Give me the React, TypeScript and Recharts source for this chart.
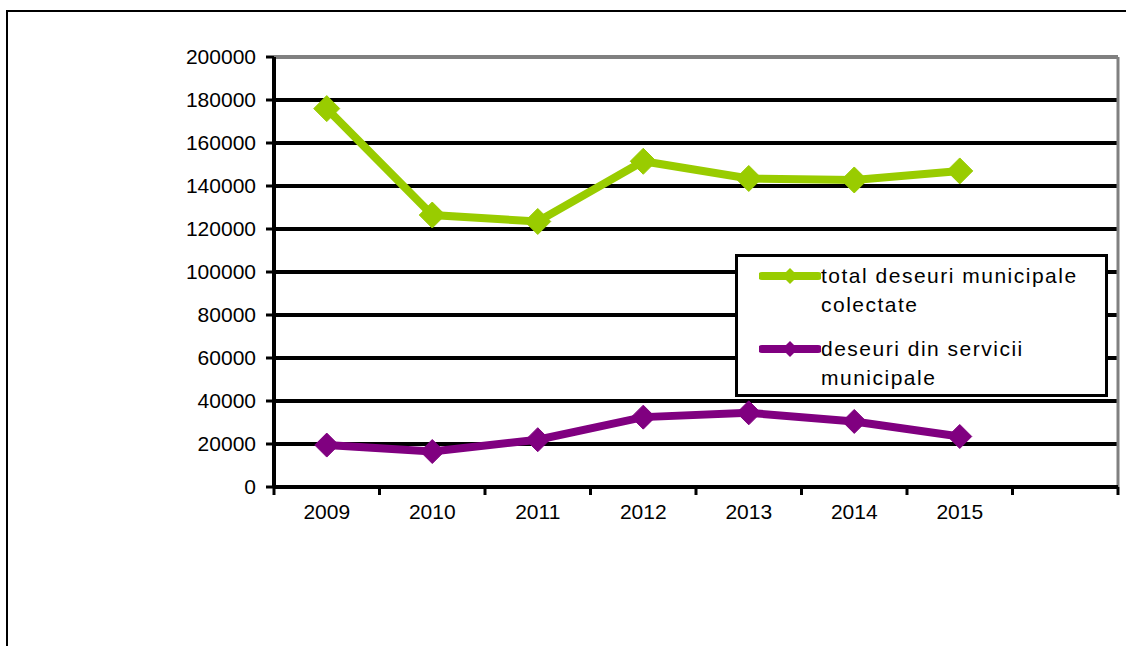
import React from 'react';
import { LineChart, Line, XAxis, YAxis, CartesianGrid, ReferenceLine, Legend } from 'recharts';

const YEARS = ['2009', '2010', '2011', '2012', '2013', '2014', '2015'];
const TOTAL_COLLECTED = [176000, 126500, 123500, 151500, 143500, 142800, 147000];
const MUNICIPAL_SERVICES = [19500, 16500, 22000, 32500, 34500, 30500, 23500];
const Y_TICKS = [0, 20000, 40000, 60000, 80000, 100000, 120000, 140000, 160000, 180000, 200000];

const SERIES_NAMES = ['total deseuri municipale colectate', 'deseuri din servicii municipale'];
const GREEN = '#99CC00';
const PURPLE = '#800080';
const FONT = '"Liberation Sans", Arial, sans-serif';

// layout
const W = 1126;
const H = 646;
const PLOT_LEFT = 274;
const PLOT_RIGHT = 8;
const SLOTS = 8; // Excel leaves one empty category slot after 2015
const STEP = (W - PLOT_LEFT - PLOT_RIGHT) / SLOTS;

const data = YEARS.map((year, i) => ({
  year,
  total: TOTAL_COLLECTED[i],
  services: MUNICIPAL_SERVICES[i],
}));

const Diamond = (props: any) => {
  const { cx, cy, stroke, index, r = 12 } = props;
  if (cx == null || cy == null) return null;
  return (
    <polygon
      key={`d-${index}`}
      points={`${cx},${cy - r} ${cx + r},${cy} ${cx},${cy + r} ${cx - r},${cy}`}
      fill={stroke}
      stroke={stroke}
      strokeWidth={1}
    />
  );
};

// category label plus tick marks on the category boundaries
const YearTick = (props: any) => {
  const { x, y, payload, index, visibleTicksCount } = props;
  const axisY = y - 17;
  const marks = [x + STEP / 2];
  if (index === 0) marks.push(x - STEP / 2);
  if (index === visibleTicksCount - 1) marks.push(x + STEP * 1.5);
  return (
    <g>
      {marks.map((mx) => (
        <line key={mx} x1={mx} y1={axisY} x2={mx} y2={axisY + 8} stroke="#000" strokeWidth={3} />
      ))}
      <text x={x} y={y} dy="0.71em" textAnchor="middle" fill="#000" fontSize={21} fontFamily={FONT}>
        {payload.value}
      </text>
    </g>
  );
};

const LegendBox = (props: any) => {
  const items = [...(props.payload || [])].sort(
    (a: any, b: any) => SERIES_NAMES.indexOf(a.value) - SERIES_NAMES.indexOf(b.value)
  );
  return (
    <div
      style={{
        boxSizing: 'border-box',
        width: '100%',
        height: '100%',
        border: '3px solid #000',
        background: '#fff',
        padding: '4px 0 0 21px',
        fontFamily: FONT,
        fontSize: 21,
        letterSpacing: 1.5,
        color: '#000',
      }}
    >
      {items.map((item: any, i: number) => (
        <div key={item.value} style={{ display: 'flex', alignItems: 'flex-start', marginTop: i === 0 ? 0 : 15 }}>
          <svg width={62} height={29} style={{ flex: 'none' }}>
            <line x1={3} y1={15} x2={59} y2={15} stroke={item.color} strokeWidth={8} strokeLinecap="round" />
            <polygon points="31,7 39,15 31,23 23,15" fill={item.color} />
          </svg>
          <div style={{ width: 272, lineHeight: '29px' }}>{item.value}</div>
        </div>
      ))}
    </div>
  );
};

export default function App() {
  return (
    <div style={{ position: 'absolute', left: 0, top: 0, width: W, height: H, background: '#fff' }}>
      <div
        style={{
          position: 'absolute',
          left: 6,
          top: 10,
          right: 0,
          bottom: 0,
          borderLeft: '2px solid #000',
          borderTop: '2px solid #000',
        }}
      />
      <LineChart
        width={W}
        height={H}
        data={data}
        margin={{ top: 57, right: PLOT_RIGHT, left: PLOT_LEFT - 80, bottom: 119 }}
      >
        <CartesianGrid vertical={false} stroke="#000" strokeWidth={4} />
        <CartesianGrid
          horizontal={false}
          stroke="#808080"
          strokeWidth={3}
          verticalCoordinatesGenerator={({ offset }: any) => [offset.left + offset.width]}
        />
        <ReferenceLine y={200000} stroke="#808080" strokeWidth={4} />
        <XAxis
          dataKey="year"
          height={40}
          interval={0}
          padding={{ left: STEP / 2, right: STEP * 1.5 }}
          axisLine={{ stroke: '#000', strokeWidth: 4 }}
          tickLine={false}
          tickSize={8}
          tickMargin={9}
          tick={<YearTick />}
        />
        <YAxis
          domain={[0, 200000]}
          ticks={Y_TICKS}
          interval={0}
          width={80}
          tickSize={8}
          tickMargin={10}
          axisLine={{ stroke: '#000', strokeWidth: 4 }}
          tickLine={{ stroke: '#000', strokeWidth: 3 }}
          tick={{ fill: '#000', fontSize: 21, fontFamily: FONT }}
        />
        <Legend
          layout="vertical"
          align="center"
          verticalAlign="middle"
          width={373}
          height={143}
          wrapperStyle={{ left: 735, top: 254, width: 373, height: 143 }}
          content={<LegendBox />}
        />
        <Line
          dataKey="total"
          name={SERIES_NAMES[0]}
          stroke={GREEN}
          strokeWidth={8}
          dot={<Diamond r={13} />}
          activeDot={false}
          isAnimationActive={false}
        />
        <Line
          dataKey="services"
          name={SERIES_NAMES[1]}
          stroke={PURPLE}
          strokeWidth={8}
          dot={<Diamond r={12} />}
          activeDot={false}
          isAnimationActive={false}
        />
      </LineChart>
    </div>
  );
}
